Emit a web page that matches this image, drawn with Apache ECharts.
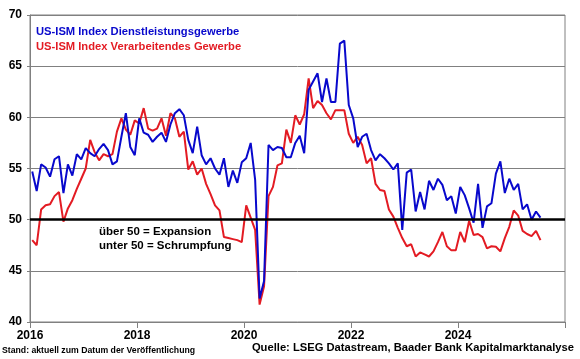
<!DOCTYPE html>
<html>
<head>
<meta charset="utf-8">
<script src="https://cdn.jsdelivr.net/npm/echarts@6/dist/echarts.min.js"></script>
<style>html,body{margin:0;padding:0;background:#fff}#c{width:580px;height:359px}</style>
</head>
<body>
<div id="c"></div>
<script>
// Monthly data, Jan 2016 .. Jul 2025
const startYear = 2016;
const services = [
 54.7,52.8,55.4,55.1,54.2,55.9,56.2,52.6,55.4,54.3,56.4,55.9,
 57.0,56.5,56.2,56.9,57.4,56.8,55.4,55.7,58.1,60.4,57.1,56.3,
 59.9,58.5,58.3,57.6,58.1,58.5,57.6,59.3,60.4,60.8,60.2,57.8,
 56.5,59.1,56.3,55.4,56.0,55.0,54.4,56.0,53.2,54.8,53.6,55.6,
 56.0,57.5,53.9,42.3,44.0,57.3,56.8,57.1,57.0,56.1,56.1,57.5,
 58.2,56.5,62.7,63.5,64.3,61.5,63.8,61.5,61.5,67.2,67.5,61.2,
 59.9,57.1,58.1,58.4,56.8,55.8,56.4,56.0,55.5,54.9,55.5,49.0,
 54.6,54.9,50.8,52.7,51.0,53.8,52.9,54.0,53.4,51.9,52.3,50.6,
 53.2,52.4,51.1,49.7,53.5,49.2,51.3,51.6,54.5,55.7,52.6,54.0,
 52.9,53.5,51.0,51.5,50.0,50.8,50.2
];
const manufacturing = [
 48.0,47.5,51.0,51.4,51.5,52.3,52.7,49.8,51.1,51.9,53.0,54.0,
 55.0,57.8,56.6,55.8,56.4,56.2,56.4,58.6,59.9,58.8,58.3,59.7,
 59.4,60.9,58.9,58.7,58.9,59.9,58.2,60.4,59.9,58.1,58.6,54.9,
 55.7,54.4,55.0,53.5,52.5,51.4,50.9,48.3,48.2,48.1,48.0,47.8,
 51.4,50.2,49.0,41.7,43.5,52.3,53.2,55.3,55.5,58.8,57.5,60.2,
 59.3,60.3,63.8,60.9,61.6,61.2,60.4,59.8,60.7,60.7,60.7,58.4,
 57.5,58.1,57.3,55.5,56.0,53.5,52.9,52.8,51.0,50.3,49.2,48.2,
 47.4,47.6,46.4,46.8,46.6,46.4,46.9,47.8,48.8,47.4,47.0,47.0,
 48.8,47.8,49.9,48.5,48.6,48.3,47.2,47.4,47.35,46.9,48.2,49.3,
 50.9,50.4,48.9,48.6,48.4,48.9,48.0
];
const seriesNames = ['US-ISM Index Dienstleistungsgewerbe', 'US-ISM Index Verarbeitendes Gewerbe'];
const noteLines = ['über 50 = Expansion', 'unter 50 = Schrumpfung'];
const footLeft = 'Stand: aktuell zum Datum der Veröffentlichung';
const footRight = 'Quelle: LSEG Datastream, Baader Bank Kapitalmarktanalyse';
const threshold = 50;

const toPairs = arr => arr.map((v, i) => [startYear + (i + 0.5) / 12, v]);
const FONT = "'Liberation Sans', Arial, sans-serif";
const BLUE = '#0808CC', RED = '#E31B23';

const chart = echarts.init(document.getElementById('c'), null, {renderer: 'canvas'});
chart.setOption({
  animation: false,
  backgroundColor: '#fff',
  grid: {left: 30, right: 15, top: 15, bottom: 37, show: true, borderColor: '#808080', borderWidth: 1},
  xAxis: {
    type: 'value', min: 2016, max: 2026, interval: 2,
    axisLine: {show: true, lineStyle: {color: '#808080', width: 1}},
    axisTick: {show: true, length: 6, lineStyle: {color: '#808080'}},
    axisLabel: {formatter: v => v >= 2026 ? '' : String(v), color: '#000', fontWeight: 'bold', fontSize: 12, fontFamily: FONT, margin: 8},
    splitLine: {show: false}
  },
  yAxis: {
    type: 'value', min: 40, max: 70, interval: 5,
    axisLine: {show: true, lineStyle: {color: '#808080', width: 1}},
    axisTick: {show: true, length: 3, lineStyle: {color: '#808080'}},
    axisLabel: {color: '#000', fontWeight: 'bold', fontSize: 12, fontFamily: FONT, margin: 8},
    splitLine: {show: true, lineStyle: {color: '#808080', width: 1}}
  },
  series: [
    {
      name: seriesNames[0], type: 'line', data: toPairs(services), symbol: 'none',
      lineStyle: {color: BLUE, width: 2}, itemStyle: {color: BLUE}, z: 3,
      markLine: {silent: true, symbol: 'none', label: {show: false},
        lineStyle: {color: '#000', width: 2.5, type: 'solid'}, data: [{yAxis: threshold}]}
    },
    {
      name: seriesNames[1], type: 'line', data: toPairs(manufacturing), symbol: 'none',
      lineStyle: {color: RED, width: 2}, itemStyle: {color: RED}, z: 2
    }
  ],
  graphic: [
    {type: 'text', left: 36, top: 26, style: {text: seriesNames[0], fill: BLUE, font: 'bold 11.2px ' + FONT}},
    {type: 'text', left: 36, top: 41, style: {text: seriesNames[1], fill: RED, font: 'bold 11.2px ' + FONT}},
    {type: 'text', left: 99, top: 226, style: {text: noteLines[0], fill: '#000', font: 'bold 11.5px ' + FONT}},
    {type: 'text', left: 99, top: 240, style: {text: noteLines[1], fill: '#000', font: 'bold 11.5px ' + FONT}},
    {type: 'text', left: 2, top: 346, style: {text: footLeft, fill: '#000', font: 'bold 8.7px ' + FONT}},
    {type: 'text', right: 6, top: 342, style: {text: footRight, fill: '#000', font: 'bold 11.2px ' + FONT}}
  ]
});
</script>
</body>
</html>
